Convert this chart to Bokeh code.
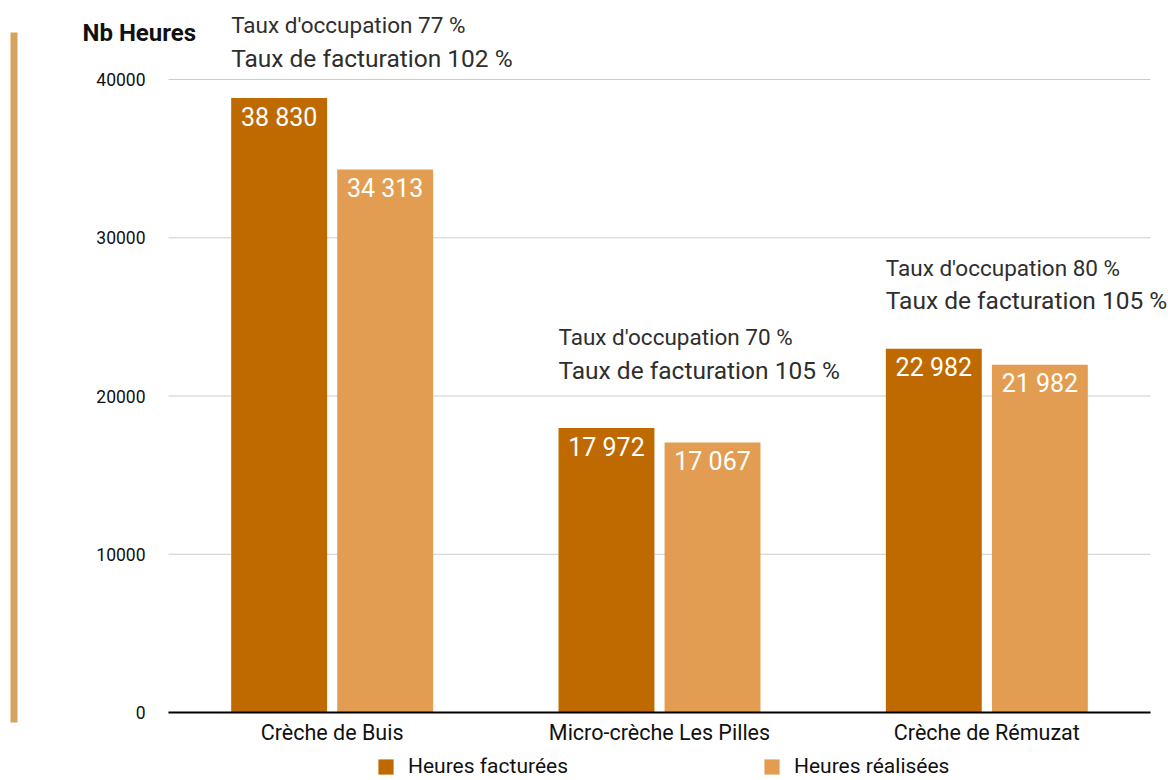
import numpy as np
from bokeh.plotting import figure
from bokeh.models import (ColumnDataSource, Range1d, FixedTicker, Legend,
                          LegendItem, Label, BoxAnnotation)
from bokeh.core.properties import value
from bokeh.embed import file_html
from bokeh.resources import INLINE

# ---- data ----
categories = ["Crèche de Buis", "Micro-crèche Les Pilles", "Crèche de Rémuzat"]
heures_facturees = [38830, 17972, 22982]
heures_realisees = [34313, 17067, 21982]
taux_occupation = [77, 70, 80]
taux_facturation = [102, 105, 105]
y_ticks = [0, 10000, 20000, 30000, 40000]
series_names = ["Heures facturées", "Heures réalisées"]
y_title = "Nb Heures"

DARK = "#bf6a00"
LIGHT = "#e29d52"
TAN = "#d4a45e"
FONT = "Roboto"
TXT = "#111111"

W, H = 1168, 780
PLOT_L, PLOT_R, PLOT_B = 168, 1150, 712      # plot area in canvas pixels
n = len(categories)
px_per_cat = (PLOT_R - PLOT_L) / n
px_per_unit_y = (PLOT_B - 79) / max(y_ticks)  # 40000 gridline at y=79


def fmt(v):
    return f"{v:,}".replace(",", " ")


centers = np.arange(n) + 0.5
off = 0.162
bw = 0.293

src = ColumnDataSource(dict(
    xf=centers - off,
    xr=centers + off,
    xl=centers - off - bw / 2,
    fact=heures_facturees,
    real=heures_realisees,
    fact_lbl=[fmt(v) for v in heures_facturees],
    real_lbl=[fmt(v) for v in heures_realisees],
    occ_lbl=[f"Taux d'occupation {v} %" for v in taux_occupation],
    fac_lbl=[f"Taux de facturation {v} %" for v in taux_facturation],
))

x_range = Range1d(-PLOT_L / px_per_cat, (W - PLOT_L) / px_per_cat)
y_range = Range1d(-(H - PLOT_B) / px_per_unit_y, PLOT_B / px_per_unit_y)

p = figure(width=W, height=H, output_backend="svg", toolbar_location=None,
           x_range=x_range, y_range=y_range, min_border=0)
p.outline_line_color = None
p.background_fill_color = "white"
p.border_fill_color = "white"
p.xgrid.grid_line_color = None
p.ygrid.grid_line_color = None

# horizontal gridlines spanning the category area only
p.segment(x0=0, x1=n, y0=y_ticks, y1=y_ticks, line_color="#cccccc",
          line_width=1)

r_fact = p.vbar(x="xf", top="fact", width=bw, source=src,
                fill_color=DARK, line_color=None)
r_real = p.vbar(x="xr", top="real", width=bw, source=src,
                fill_color=LIGHT, line_color=None)

# value labels inside bars
for xc, col, lbl in (("xf", "fact", "fact_lbl"), ("xr", "real", "real_lbl")):
    p.text(x=xc, y=col, text=lbl, source=src,
           text_align="center", text_baseline="middle", y_offset=19,
           text_color="white", text_font=value(FONT), text_font_size="25px")

# rate annotations above the first bar of each group
annot_offsets = [-40, -58, -48]
src.data["annot_off2"] = annot_offsets
src.data["annot_off1"] = [o - 33 for o in annot_offsets]
p.text(x="xl", y="fact", text="occ_lbl", source=src, y_offset="annot_off1",
       text_align="left", text_baseline="middle", text_color="#2e2e2e",
       text_font=value(FONT), text_font_size="22.5px")
p.text(x="xl", y="fact", text="fac_lbl", source=src, y_offset="annot_off2",
       text_align="left", text_baseline="middle", text_color="#2e2e2e",
       text_font=value(FONT), text_font_size="24.5px")

# x axis (categories)
xa = p.xaxis[0]
xa.fixed_location = 0
xa.bounds = (0, n)
xa.ticker = FixedTicker(ticks=list(centers))
xa.major_label_overrides = {float(c): name for c, name in zip(centers, categories)}
xa.axis_line_color = "black"
xa.axis_line_width = 2
xa.major_tick_line_color = None
xa.minor_tick_line_color = None
xa.major_tick_out = 0
xa.major_label_standoff = 7
xa.major_label_text_font = FONT
xa.major_label_text_font_size = "21.5px"
xa.major_label_text_color = TXT

# y axis
ya = p.yaxis[0]
ya.fixed_location = 0
ya.bounds = (0, max(y_ticks))
ya.ticker = FixedTicker(ticks=y_ticks)
ya.axis_line_color = None
ya.major_tick_line_color = None
ya.minor_tick_line_color = None
ya.major_tick_out = 0
ya.major_label_standoff = 23
ya.major_label_text_font = FONT
ya.major_label_text_font_size = "17.5px"
ya.major_label_text_color = TXT

# y-axis title, top left
p.add_layout(Label(x=82, y=H - 32, x_units="screen", y_units="screen",
                   text=y_title, text_font=FONT, text_font_size="24px",
                   text_font_style="bold", text_baseline="middle",
                   text_color=TXT))

# decorative tan bar on the left
p.add_layout(BoxAnnotation(left=10, right=17, top=H - 32, bottom=H - 722,
                           left_units="screen", right_units="screen",
                           top_units="screen", bottom_units="screen",
                           fill_color=TAN, fill_alpha=1, line_color=None))

# series legend (below the chart)
lg = Legend(items=[LegendItem(label=series_names[0], renderers=[r_fact]),
                   LegendItem(label=series_names[1], renderers=[r_real])],
            orientation="horizontal", location=(376, 2), padding=0, margin=0,
            spacing=194, label_standoff=13, glyph_width=19, glyph_height=19,
            label_text_font=FONT, label_text_font_size="21px",
            label_text_color=TXT, border_line_color=None,
            background_fill_alpha=0)
p.add_layout(lg, "center")

open("out.html", "w").write(file_html(p, INLINE))
